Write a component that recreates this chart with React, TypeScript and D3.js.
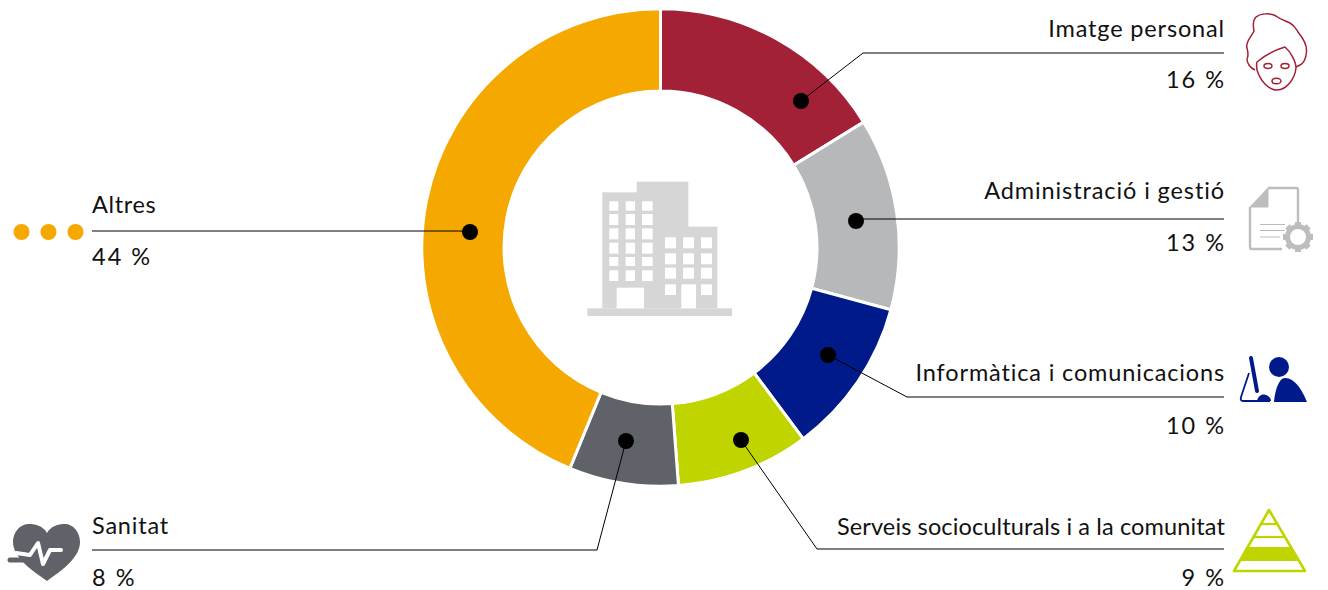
import React from "react";
import * as d3 from "d3";

const categories = ["Imatge personal", "Administració i gestió", "Informàtica i comunicacions", "Serveis socioculturals i a la comunitat", "Sanitat", "Altres"];
const values = [16.2, 13, 10.6, 9, 7.4, 43.8];
const percentLabels = ["16 %", "13 %", "10 %", "9 %", "8 %", "44 %"];
const colors = ["#a32136", "#b7b8ba", "#001a8a", "#c0d500", "#5f6369", "#f5a800"];

const W = 1328, H = 590, CX = 660.5, CY = 247.5, RO = 238.7, RI = 156.5;
// leader layout: dot, elbow, end of line, text baselines, name tracking
const leaders = [
  { dot: [801, 101], elbow: [863, 53], end: 1224, t1: 37, t2: 88, anchor: "end", ls: 0.85 },
  { dot: [856, 221], elbow: [863, 219], end: 1224, t1: 198.5, t2: 251, anchor: "end", ls: 0.9 },
  { dot: [828, 355], elbow: [907, 397], end: 1224, t1: 381, t2: 434, anchor: "end", ls: 0.85 },
  { dot: [741, 440], elbow: [817, 549], end: 1224, t1: 535, t2: 586, anchor: "end", ls: 0.13 },
  { dot: [626, 441], elbow: [597, 550], end: 92, t1: 534, t2: 586, anchor: "start", ls: 0.8 },
  { dot: [470, 232], elbow: [460, 231], end: 92, t1: 213, t2: 265, anchor: "start", ls: 0.65 },
];
const FONT = "Lato, sans-serif";

const bCols = [[118, 145], [167, 195], [216, 248]];
const bRows = [[109, 137], [147, 180], [190, 223], [233, 266], [276, 303], [316, 348]];
const rCols = [[285, 318], [339, 372], [393, 426]];
const rRows = [[217, 250], [265, 298], [308, 341], [358, 390]];

function Building() {
  const bx = (v: number) => 570 + v / 3;
  const by = (v: number) => 165 + v / 3;
  const R = (x0: number, x1: number, y0: number, y1: number, fill: string, k: string) => (
    <rect key={k} x={bx(x0)} y={by(y0)} width={(x1 - x0) / 3} height={(y1 - y0) / 3} fill={fill} />
  );
  const g = "#d6d6d6";
  return (
    <g>
      {R(200, 355, 50, 200, g, "a")}
      {R(97, 270, 82, 430, g, "b")}
      {R(265, 442, 185, 430, g, "c")}
      {R(52, 486, 430, 453, g, "d")}
      {bCols.flatMap((c, i) => bRows.map((r, j) => R(c[0], c[1], r[0], r[1], "#fff", `l${i}${j}`)))}
      {rCols.flatMap((c, i) => rRows.map((r, j) => (i === 1 && j === 3 ? null : R(c[0], c[1], r[0], r[1], "#fff", `r${i}${j}`))))}
      {R(140, 222, 368, 430, "#fff", "dl")}
      {R(334, 378, 358, 430, "#fff", "dr")}
    </g>
  );
}

function Face() {
  const c = colors[0];
  return (
    <g fill="none" stroke={c} strokeWidth={1.5} strokeLinejoin="round">
      <path d="M1255 70 C1250 68 1247 63 1247 59 C1249 55 1248 52 1247 48 C1245 42 1252 36 1254 31 C1253 26 1253 20 1256 17 C1261 13 1270 13 1276 16 C1281 20 1286 21 1290 23 C1295 26 1296 29 1298 32 C1303 38 1307 46 1306.5 52 C1306 58 1304 63 1300 65 L1296 67" />
      <path d="M1257 62 C1265 55 1275 50 1285 47 C1291 52 1296 62 1296 68 C1295 78 1287 90 1277 90 C1268 90 1260 80 1257 70 C1256.5 67 1256.5 64 1257 62 Z" />
      <ellipse cx={1268} cy={66} rx={4} ry={2.4} />
      <ellipse cx={1285} cy={66} rx={4} ry={2.4} />
      <ellipse cx={1276.5} cy={81} rx={4.5} ry={2.8} />
    </g>
  );
}

function Doc() {
  const c = "#bcbdbf";
  const teeth = d3.range(8).map((i) => (i * 360) / 8);
  return (
    <g>
      <path d="M1268 188 L1296 188 Q1298 188 1298 190 L1298 222" fill="none" stroke={c} strokeWidth={2.4} />
      <path d="M1250 207 L1250 247 Q1250 249 1252 249 L1282 249" fill="none" stroke={c} strokeWidth={2.4} />
      <path d="M1268 188 L1268 207 L1250 207 Z" fill={c} stroke={c} strokeWidth={1} strokeLinejoin="round" />
      <path d="M1260 224.5 H1285 M1260 230.5 H1285 M1260 237 H1280" stroke={c} strokeWidth={1} fill="none" />
      <circle cx={1298} cy={237} r={10.5} fill="none" stroke={c} strokeWidth={5} />
      {teeth.map((a) => (
        <rect key={a} x={1295} y={222} width={6} height={5} fill={c} transform={`rotate(${a} 1298 237)`} />
      ))}
    </g>
  );
}

function Computer() {
  const c = colors[2];
  return (
    <g>
      <circle cx={1279} cy={367} r={10} fill={c} />
      <path d="M1274 402 C1275 390 1279 378 1285 378 C1295 378 1302 390 1307 402 Z" fill={c} />
      <path d="M1251 358 L1257 391" stroke={c} strokeWidth={4} fill="none" strokeLinecap="round" />
      <path d="M1249 373 L1241 397 Q1240 401 1243 401 L1270 401" stroke={c} strokeWidth={1.8} fill="none" />
      <path d="M1257 401 C1258 396 1261 394.5 1264 394.5 C1268 395 1271 398 1271 401 Z" fill={c} />
    </g>
  );
}

function Pyramid() {
  const c = colors[3];
  const xl = (y: number) => 1269 - ((y - 510) * 35) / 61;
  const xr = (y: number) => 1269 + ((y - 510) * 36) / 61;
  return (
    <g>
      <path d="M1269 510 L1305 571 L1234 571 Z" fill="none" stroke={c} strokeWidth={2.6} strokeLinejoin="round" />
      {[524, 537].map((y) => (
        <line key={y} x1={xl(y)} x2={xr(y)} y1={y} y2={y} stroke={c} strokeWidth={2.2} />
      ))}
      <path d={`M${xl(547)} 547 L${xr(547)} 547 L${xr(561)} 561 L${xl(561)} 561 Z`} fill={c} />
    </g>
  );
}

function Heart() {
  const c = colors[4];
  return (
    <g>
      <path d="M47 533 C43 526 36 524 29 524 C20 524 13 532 13 542 C13 558 33 571 47 581 C61 571 80 558 80 542 C80 532 73 524 65 524 C58 524 51 526 47 533 Z" fill={c} />
      <path d="M16 553 L30 555 L38 543 L43 564 L50 550 L61 550" fill="none" stroke="#fff" strokeWidth={4} strokeLinecap="round" strokeLinejoin="round" />
      <path d="M10 560 L27 560" stroke={c} strokeWidth={5} strokeLinecap="round" />
    </g>
  );
}

function Dots() {
  return (
    <g fill={colors[5]}>
      {[21.5, 48.5, 75.5].map((x) => (
        <circle key={x} cx={x} cy={232} r={8} />
      ))}
    </g>
  );
}

export default function App() {
  const pie = d3.pie<number>().sort(null).value((d) => d);
  const arc = d3.arc<d3.PieArcDatum<number>>().innerRadius(RI).outerRadius(RO);
  const arcs = pie(values);
  return (
    <svg width={W} height={H} viewBox={`0 0 ${W} ${H}`} style={{ position: "absolute", left: 0, top: 0, background: "#fff" }}>
      <g transform={`translate(${CX},${CY})`}>
        {arcs.map((a, i) => (
          <path key={i} d={arc(a) as string} fill={colors[i]} stroke="#fff" strokeWidth={3} />
        ))}
      </g>
      <Building />
      {leaders.map((l, i) => (
        <g key={i}>
          <polyline
            points={`${l.dot[0]},${l.dot[1]} ${l.elbow[0]},${l.elbow[1]} ${l.end},${l.elbow[1]}`}
            fill="none"
            stroke="#000"
            strokeWidth={1}
          />
          <circle cx={l.dot[0]} cy={l.dot[1]} r={8} fill="#000" />
          <text x={l.anchor === "end" ? l.end + 1 : l.end} y={l.t1} textAnchor={l.anchor} fontFamily={FONT} fontSize={23.5} letterSpacing={l.ls} fill="#111">
            {categories[i]}
          </text>
          <text x={l.anchor === "end" ? l.end + 2 : l.end} y={l.t2} textAnchor={l.anchor} fontFamily={FONT} fontSize={23.5} letterSpacing={2} fill="#111">
            {percentLabels[i]}
          </text>
        </g>
      ))}
      <Face />
      <Doc />
      <Computer />
      <Pyramid />
      <Heart />
      <Dots />
    </svg>
  );
}
